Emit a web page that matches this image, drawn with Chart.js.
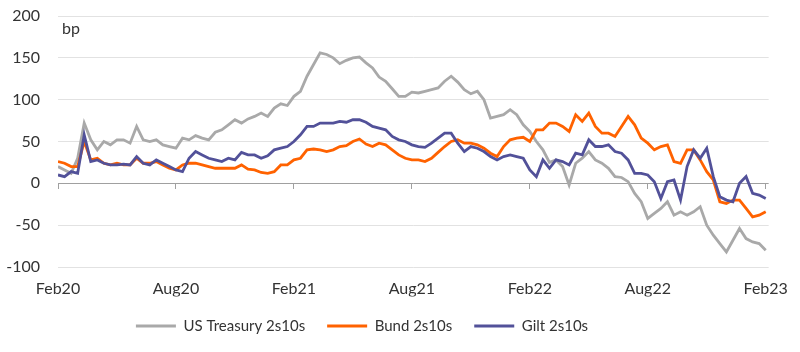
<!DOCTYPE html>
<html>
<head>
<meta charset="utf-8">
<script src="https://cdn.jsdelivr.net/npm/chart.js@4"></script>
<style>
  html, body { margin: 0; padding: 0; background: #fff; }
  #wrap { width: 800px; height: 352px; position: relative; }
</style>
</head>
<body>
<div id="wrap"><canvas id="spreadChart"></canvas></div>
<script>
(function() {
    'use strict';

    // 2s10s curve spreads (bp), one reading every third of a month from Feb20
    const STEP = 1 / 3;
    const TICK_LABELS = ['Feb20', 'Aug20', 'Feb21', 'Aug21', 'Feb22', 'Aug22', 'Feb23'];

    const UST = [
        20, 16, 12, 30, 72, 52, 40, 50, 46, 52, 52, 48, 68, 52, 50, 52, 46, 44,
        42, 54, 52, 57, 54, 52, 61, 64, 70, 76, 72, 77, 80, 84, 80, 90, 95, 93,
        104, 110, 128, 142, 156, 154, 150, 143, 147, 150, 151, 144, 138, 127, 122, 113, 104, 104,
        109, 108, 110, 112, 114, 122, 128, 121, 112, 107, 110, 100, 78, 80, 82, 88, 82, 70,
        62, 50, 40, 25, 28, 20, -2, 24, 30, 38, 28, 24, 18, 8, 7, 2, -12, -22,
        -42, -36, -30, -22, -38, -34, -38, -34, -28, -50, -62, -72, -82, -68, -54, -66, -70, -72,
        -80
    ];

    const BUND = [
        26, 24, 20, 20, 50, 28, 30, 24, 22, 24, 22, 22, 30, 24, 24, 26, 22, 18,
        16, 22, 24, 24, 22, 20, 18, 18, 18, 18, 22, 17, 16, 13, 12, 14, 22, 22,
        28, 30, 40, 41, 40, 38, 40, 44, 45, 50, 53, 47, 44, 48, 46, 40, 34, 30,
        28, 28, 26, 30, 37, 44, 50, 52, 48, 48, 46, 42, 36, 32, 44, 52, 54, 55,
        50, 64, 64, 72, 72, 68, 62, 82, 74, 84, 68, 60, 60, 56, 68, 80, 70, 54,
        48, 40, 44, 46, 26, 24, 40, 40, 28, 14, 4, -22, -24, -20, -20, -30, -40, -38,
        -34
    ];

    const GILT = [
        10, 8, 14, 12, 58, 26, 28, 24, 22, 22, 23, 22, 32, 24, 22, 28, 24, 20,
        16, 14, 30, 38, 34, 30, 28, 26, 30, 28, 37, 34, 34, 30, 33, 40, 42, 44,
        50, 58, 68, 68, 72, 72, 72, 74, 73, 76, 76, 73, 68, 66, 64, 56, 52, 50,
        46, 44, 43, 48, 54, 60, 60, 48, 38, 44, 42, 38, 32, 28, 32, 34, 32, 30,
        16, 8, 28, 18, 28, 26, 22, 36, 34, 52, 44, 44, 46, 38, 36, 28, 12, 12,
        10, 2, -18, 2, 4, -20, 20, 40, 30, 42, 8, -16, -20, -22, 0, 8, -12, -14,
        -18
    ];

    const FONT = 'Lato, "Open Sans", sans-serif';
    const TEXT_COLOR = '#333333';

    function toPoints(values) {
        return values.map((v, i) => ({ x: i * STEP, y: v }));
    }

    function series(label, values, color, order) {
        return {
            label: label,
            data: toPoints(values),
            borderColor: color,
            backgroundColor: color,
            borderWidth: 2.8,
            pointRadius: 0,
            tension: 0,
            fill: false,
            order: order
        };
    }

    // "bp" unit label in the top-left corner of the plot
    const unitLabel = {
        id: 'unitLabel',
        afterDraw(chart) {
            const { ctx, chartArea } = chart;
            ctx.save();
            ctx.font = '16px ' + FONT;
            ctx.fillStyle = TEXT_COLOR;
            ctx.textBaseline = 'middle';
            ctx.fillText('bp', chartArea.left + 4, chartArea.top + 13);
            ctx.restore();
        }
    };

    // the legend row sits a little left of centre in the original
    const legendShift = {
        id: 'legendShift',
        afterLayout(chart) {
            if (chart.legend) chart.legend.right -= 47;
        }
    };

    const ctx = document.getElementById('spreadChart').getContext('2d');

    new Chart(ctx, {
        type: 'line',
        data: {
            datasets: [
                series('US Treasury 2s10s', UST, '#a9a9a9', 3),
                series('Bund 2s10s', BUND, '#ff6200', 2),
                series('Gilt 2s10s', GILT, '#525199', 1)
            ]
        },
        options: {
            responsive: true,
            maintainAspectRatio: false,
            animation: false,
            layout: {
                padding: { top: 16, right: 29, bottom: 8.5, left: 0 }
            },
            plugins: {
                legend: {
                    position: 'bottom',
                    labels: {
                        usePointStyle: true,
                        pointStyle: 'line',
                        pointStyleWidth: 40,
                        padding: 22,
                        color: TEXT_COLOR,
                        font: { family: FONT, size: 15 },
                        sort: (a, b) => a.datasetIndex - b.datasetIndex
                    }
                },
                tooltip: { enabled: false }
            },
            scales: {
                x: {
                    type: 'linear',
                    min: 0,
                    max: 36.15,
                    grid: { display: false, drawTicks: false },
                    border: { display: false },
                    ticks: {
                        stepSize: 6,
                        includeBounds: false,
                        maxRotation: 0,
                        padding: 12,
                        color: TEXT_COLOR,
                        font: { family: FONT, size: 16 },
                        callback: (value) => TICK_LABELS[Math.round(value / 6)]
                    },
                    afterFit: (scale) => { scale.height = 29.5; }
                },
                // tick marks sitting on the zero line
                xZero: {
                    type: 'linear',
                    axis: 'x',
                    position: { y: 0 },
                    min: 0,
                    max: 36.15,
                    ticks: { display: false, stepSize: 6, includeBounds: false },
                    grid: {
                        drawOnChartArea: false,
                        drawTicks: true,
                        tickLength: 6,
                        color: '#a0a0a0'
                    },
                    border: { display: false }
                },
                y: {
                    min: -100,
                    max: 200,
                    border: { display: false },
                    grid: {
                        drawTicks: true,
                        tickLength: 18,
                        tickColor: 'rgba(0,0,0,0)',
                        color: (c) => c.tick && c.tick.value === 0 ? '#a0a0a0' : '#e2e2e2'
                    },
                    ticks: {
                        stepSize: 50,
                        padding: 0,
                        color: TEXT_COLOR,
                        font: { family: FONT, size: 16 }
                    },
                    afterFit: (scale) => { scale.width = 58; }
                }
            }
        },
        plugins: [unitLabel, legendShift]
    });
})();
</script>
</body>
</html>
